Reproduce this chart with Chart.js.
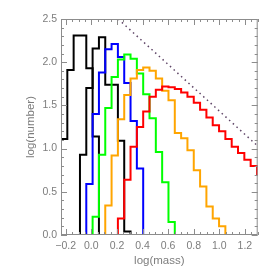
<!DOCTYPE html>
<html>
<head>
<meta charset="utf-8">
<script src="https://cdn.jsdelivr.net/npm/chart.js@4.4.1/dist/chart.umd.min.js"></script>
<style>
  html, body { margin: 0; padding: 0; background: #fff; }
  #wrap { width: 275px; height: 275px; }
</style>
</head>
<body>
<div id="wrap"><canvas id="massChart" width="275" height="275"></canvas></div>
<script>
// histogram bins in log(mass)
const binStart = -0.237;
const binWidth = 0.0494;

// log(number) per bin, null = empty bin
const black1 = [1.11, 1.91, 2.31, 2.31, 1.93, 1.14];
const black2 = [null, null, null, 0.93, 1.70, 2.16, 2.29, 1.74, 1.74, 1.09, 0.04, 0, 0];
const blue = [null, null, null, null, 0.59, 1.40, 1.88, 2.15, 2.21, 2.06, 1.76, 1.32, 0.77,
              null, null, null, null, 0];
const green = [null, null, null, null, null, 0.21, 0.93, 1.47, 1.83, 2.03, 2.09, 2.04, 1.87,
               1.63, 1.35, 0.96, 0.61, 0.15, null, null, null, null, 0, 0, null, 0];
const orange = [null, null, null, null, null, null, null, 0.34, 0.92, 1.34, 1.62, 1.81, 1.91,
                1.94, 1.90, 1.81, 1.67, 1.56, 1.18, 1.12, 0.98, 0.75, 0.56, 0.33, 0.19, 0.10];
const red = [0, 0, 0, 0, 0, 0, 0, 0, 0, 0.19, 0.64, 1.02, 1.25, 1.43, 1.60, 1.68, 1.72, 1.71,
             1.69, 1.65, 1.60, 1.53, 1.45, 1.36, 1.27, 1.20, 1.11, 1.02, 0.95, 0.87, 0.80, 0.70];

// reference slope line (dotted)
const slopeX = [0.21, 1.30];
const slopeY = [2.50, 1.03];

const xTicks = [-0.2, 0.0, 0.2, 0.4, 0.6, 0.8, 1.0, 1.2];
const yTicks = [0.0, 0.5, 1.0, 1.5, 2.0, 2.5];

// turn bin values into step outline points
function steps(vals) {
    const pts = [];
    const floorY = -1; // below the axis, gets clipped
    let open = false;
    vals.forEach((v, i) => {
        const x0 = binStart + i * binWidth;
        const x1 = x0 + binWidth;
        if (v === null) {
            if (open) {
                pts.push({x: x0, y: floorY});
                pts.push({x: x0, y: null});
                open = false;
            }
            return;
        }
        if (!open) {
            pts.push({x: x0, y: floorY});
            open = true;
        }
        pts.push({x: x0, y: v}, {x: x1, y: v});
    });
    if (open) pts.push({x: binStart + vals.length * binWidth, y: floorY});
    return pts;
}

function histSet(vals, color, order) {
    return {
        data: steps(vals),
        borderColor: color,
        borderWidth: 2,
        pointRadius: 0,
        fill: false,
        tension: 0,
        spanGaps: false,
        order: order
    };
}

const axisGrey = '#8c8c8c';
const textGrey = '#7d7d7d';

// frame with inward ticks on all four sides
const framePlugin = {
    id: 'frame',
    afterDatasetsDraw(chart) {
        const {ctx, chartArea: a, scales: {x, y}} = chart;
        ctx.save();
        ctx.strokeStyle = axisGrey;
        ctx.lineWidth = 1;
        ctx.strokeRect(a.left + 0.5, a.top + 0.5, a.right - a.left - 1, a.bottom - a.top - 1);
        ctx.beginPath();
        for (let v = -0.2; v <= 1.3001; v += 0.05) {
            const px = Math.round(x.getPixelForValue(v)) + 0.5;
            const major = Math.abs(v / 0.2 - Math.round(v / 0.2)) < 1e-6;
            const len = major ? 6 : 3;
            ctx.moveTo(px, a.bottom); ctx.lineTo(px, a.bottom - len);
            ctx.moveTo(px, a.top); ctx.lineTo(px, a.top + len);
        }
        for (let v = 0; v <= 2.5001; v += 0.1) {
            const py = Math.round(y.getPixelForValue(v)) + 0.5;
            const major = Math.abs(v / 0.5 - Math.round(v / 0.5)) < 1e-6;
            const len = major ? 6 : 3;
            ctx.moveTo(a.left, py); ctx.lineTo(a.left + len, py);
            ctx.moveTo(a.right, py); ctx.lineTo(a.right - len, py);
        }
        ctx.stroke();
        ctx.restore();
    }
};

const fmt = v => v.toFixed(1).replace('-', '\u2212');

const ctx = document.getElementById('massChart').getContext('2d');
const massChart = new Chart(ctx, {
    type: 'line',
    data: {
        datasets: [
            {
                data: slopeX.map((v, i) => ({x: v, y: slopeY[i]})),
                borderColor: '#5e4466',
                borderWidth: 1.5,
                borderDash: [1.5, 3.5],
                pointRadius: 0,
                order: -1
            },
            histSet(red, '#ff0000', 0),
            histSet(orange, '#ffa500', 1),
            histSet(green, '#00ff00', 2),
            histSet(blue, '#0000ff', 3),
            histSet(black2, '#000000', 4),
            histSet(black1, '#000000', 5)
        ]
    },
    options: {
        responsive: false,
        animation: false,
        events: [],
        layout: { padding: { top: 19, right: 17.3, left: 0, bottom: 0 } },
        plugins: { legend: { display: false }, tooltip: { enabled: false } },
        scales: {
            x: {
                type: 'linear',
                min: binStart,
                max: 1.3,
                grid: { display: false, drawTicks: false },
                border: { display: false },
                afterBuildTicks: s => { s.ticks = xTicks.map(v => ({value: v})); },
                afterFit: s => { s.height = 40; },
                ticks: {
                    color: textGrey,
                    padding: 5,
                    maxRotation: 0,
                    font: { family: 'Liberation Sans, Arial, sans-serif', size: 10.5 },
                    callback: v => fmt(v)
                },
                title: {
                    display: true,
                    text: 'log(mass)',
                    color: textGrey,
                    padding: { top: 0, bottom: 7 },
                    font: { family: 'Liberation Sans, Arial, sans-serif', size: 11.5 }
                }
            },
            y: {
                min: 0,
                max: 2.5,
                grid: { display: false, drawTicks: false },
                border: { display: false },
                afterBuildTicks: s => { s.ticks = yTicks.map(v => ({value: v})); },
                afterFit: s => { s.width = 61; },
                ticks: {
                    color: textGrey,
                    padding: 4,
                    font: { family: 'Liberation Sans, Arial, sans-serif', size: 10.5 },
                    callback: v => fmt(v)
                },
                title: {
                    display: true,
                    text: 'log(number)',
                    color: textGrey,
                    padding: { top: 24, bottom: 0 },
                    font: { family: 'Liberation Sans, Arial, sans-serif', size: 11.5 }
                }
            }
        }
    },
    plugins: [framePlugin]
});
</script>
</body>
</html>
